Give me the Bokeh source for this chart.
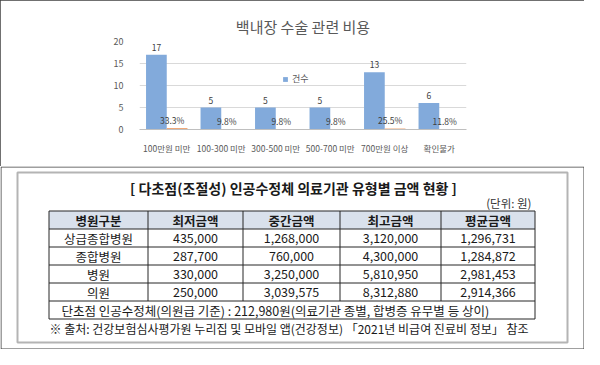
from bokeh.plotting import figure
from bokeh.models import (FactorRange, Range1d, ColumnDataSource, Legend, LegendItem)
from bokeh.transform import dodge
from bokeh.layouts import column
from bokeh.embed import file_html
from bokeh.resources import INLINE
from bokeh.core.properties import value

FONT = "Noto Sans CJK KR"

# ---------------- chart data ----------------
chart_title = "백내장 수술 관련 비용"
categories = ["100만원 미만", "100-300 미만", "300-500 미만", "500-700 미만", "700만원 이상", "확인불가"]
counts = [17, 5, 5, 5, 13, 6]
shares = [0.333, 0.098, 0.098, 0.098, 0.255, 0.118]
y_ticks = [0, 5, 10, 15, 20]
legend_label = "건수"

# ---------------- table data ----------------
table_title = "[ 다초점(조절성) 인공수정체 의료기관 유형별 금액 현황 ]"
unit_note = "(단위: 원)"
headers = ["병원구분", "최저금액", "중간금액", "최고금액", "평균금액"]
hospital_types = ["상급종합병원", "종합병원", "병원", "의원"]
min_amount = [435000, 287700, 330000, 250000]
median_amount = [1268000, 760000, 3250000, 3039575]
max_amount = [3120000, 4300000, 5810950, 8312880]
mean_amount = [1296731, 1284872, 2981453, 2914366]
monofocal_note = "단초점 인공수정체(의원급 기준) : 212,980원(의료기관 종별, 합병증 유무별 등 상이)"
source_note = "※ 출처: 건강보험심사평가원 누리집 및 모바일 앱(건강정보) 「2021년 비급여 진료비 정보」 참조"

BLUE = "#82AADB"
ORANGE = "#F0A878"
TXT = "#595959"

# ================= top chart =================
W, H1, H2 = 584, 166, 183
p = figure(width=W, height=H1, x_range=FactorRange(*categories), y_range=Range1d(0, 20),
           output_backend="svg", toolbar_location=None,
           min_border_left=139, min_border_right=118, min_border_top=41, min_border_bottom=37)
p.frame_align = False
p.outline_line_color = None
p.styles = {"outline": "1px solid #404040", "outline-offset": "-1px"}

src = ColumnDataSource(dict(
    cat=categories, count=counts, share=shares,
    count_label=[str(c) for c in counts],
    share_label=[f"{s * 100:.1f}%" for s in shares],
))

blue = p.vbar(x=dodge("cat", -0.19, range=p.x_range), top="count", width=0.38, source=src,
              fill_color=BLUE, line_color=None)
p.vbar(x=dodge("cat", 0.19, range=p.x_range), top="share", width=0.38, source=src,
       fill_color=ORANGE, line_color=None)

p.text(x=dodge("cat", -0.19, range=p.x_range), y=dodge("count", 0.9), text="count_label",
       source=src, text_align="center", text_baseline="bottom",
       text_font_size="8.5px", text_color="#404040", text_font=value(FONT))
p.text(x=dodge("cat", 0.10, range=p.x_range), y=dodge("share", 0.45), text="share_label",
       source=src, text_align="center", text_baseline="bottom",
       text_font_size="8.5px", text_color="#404040", text_font=value(FONT))

p.title.text = chart_title
p.title.align = "center"
p.title.text_font = FONT
p.title.text_font_size = "15px"
p.title.text_font_style = "normal"
p.title.text_color = TXT

p.yaxis.ticker = y_ticks
p.yaxis.axis_line_color = None
p.yaxis.major_tick_line_color = None
p.yaxis.minor_tick_line_color = None
p.yaxis.major_label_standoff = 10
p.yaxis.major_label_text_font = FONT
p.yaxis.major_label_text_font_size = "9px"
p.yaxis.major_label_text_color = TXT

p.xaxis.axis_line_color = "#BFBFBF"
p.xaxis.major_tick_line_color = None
p.xaxis.major_label_standoff = 6
p.xaxis.major_label_text_font = FONT
p.xaxis.major_label_text_font_size = "8.5px"
p.xaxis.major_label_text_color = TXT

p.xgrid.grid_line_color = None
p.ygrid.grid_line_color = "#D9D9D9"

# legend kept inside the plot frame (in free space near the centre)
legend = Legend(items=[LegendItem(label=legend_label, renderers=[blue])],
                orientation="horizontal", location=(143, 44),
                border_line_color=None, background_fill_alpha=0,
                label_text_font=FONT, label_text_font_size="9px", label_text_color=TXT,
                glyph_width=6, glyph_height=6, padding=0, margin=0,
                label_standoff=4, label_height=10)
p.add_layout(legend)

# ================= table =================
t = figure(width=W, height=H2, x_range=Range1d(0, W), y_range=Range1d(H2, 0),
           output_backend="svg", toolbar_location=None, min_border=0,
           x_axis_type=None, y_axis_type=None)
t.frame_align = False
t.outline_line_color = None
t.xgrid.visible = False
t.ygrid.visible = False

t.quad(left=[0.5], right=[W - 0.5], top=[0.5], bottom=[H2 - 0.5],
       fill_color=None, line_color="#404040", line_width=1)
t.quad(left=[17], right=[567], top=[6], bottom=[176],
       fill_color=None, line_color="#B4B4B4", line_width=2)

col_edges = [48.5, 147.5, 242.5, 339.5, 440.5, 534.5]
row_edges = [44.5, 62.5, 80.5, 98.5, 116.5, 134.5, 152.5]
L, R = col_edges[0], col_edges[-1]

t.quad(left=[L], right=[R], top=[row_edges[0]], bottom=[row_edges[1]],
       fill_color="#D9E1EC", line_color=None)

hx0 = [L] * len(row_edges)
hx1 = [R] * len(row_edges)
t.segment(x0=hx0, y0=row_edges, x1=hx1, y1=row_edges, line_color="#262626", line_width=1)
vx = col_edges
vy1 = [row_edges[-1]] + [row_edges[-2]] * (len(col_edges) - 2) + [row_edges[-1]]
t.segment(x0=vx, y0=[row_edges[0]] * len(vx), x1=vx, y1=vy1, line_color="#262626", line_width=1)

centers_x = [(col_edges[i] + col_edges[i + 1]) / 2 for i in range(len(col_edges) - 1)]

hy = (row_edges[0] + row_edges[1]) / 2
t.text(x=centers_x, y=[hy] * len(headers), text=headers, text_align="center",
       text_baseline="middle", text_font=value(FONT), text_font_size="12.5px",
       text_font_style="bold", text_color="#1A1A1A")

cx, cy, ct = [], [], []
for r, name in enumerate(hospital_types):
    rowvals = [name, f"{min_amount[r]:,}", f"{median_amount[r]:,}",
               f"{max_amount[r]:,}", f"{mean_amount[r]:,}"]
    yc = (row_edges[r + 1] + row_edges[r + 2]) / 2
    for c, txt in enumerate(rowvals):
        cx.append(centers_x[c])
        cy.append(yc)
        ct.append(txt)
t.text(x=cx, y=cy, text=ct, text_align="center", text_baseline="middle",
       text_font=value(FONT), text_font_size="12.5px", text_color="#1A1A1A")

t.text(x=[61], y=[(row_edges[-2] + row_edges[-1]) / 2], text=[monofocal_note],
       text_align="left", text_baseline="middle", text_font=value(FONT),
       text_font_size="12.5px", text_color="#1A1A1A")

t.text(x=[293], y=[21], text=[table_title], text_align="center", text_baseline="middle",
       text_font=value(FONT), text_font_size="14px", text_font_style="bold",
       text_color="#1A1A1A")
t.text(x=[531], y=[36.5], text=[unit_note], text_align="right", text_baseline="middle",
       text_font=value(FONT), text_font_size="11.5px", text_color="#333333")
t.text(x=[49], y=[162], text=[source_note], text_align="left", text_baseline="middle",
       text_font=value(FONT), text_font_size="12px", text_color="#1A1A1A")

layout = column(p, t, spacing=0)
open("out.html", "w").write(file_html(layout, INLINE))
